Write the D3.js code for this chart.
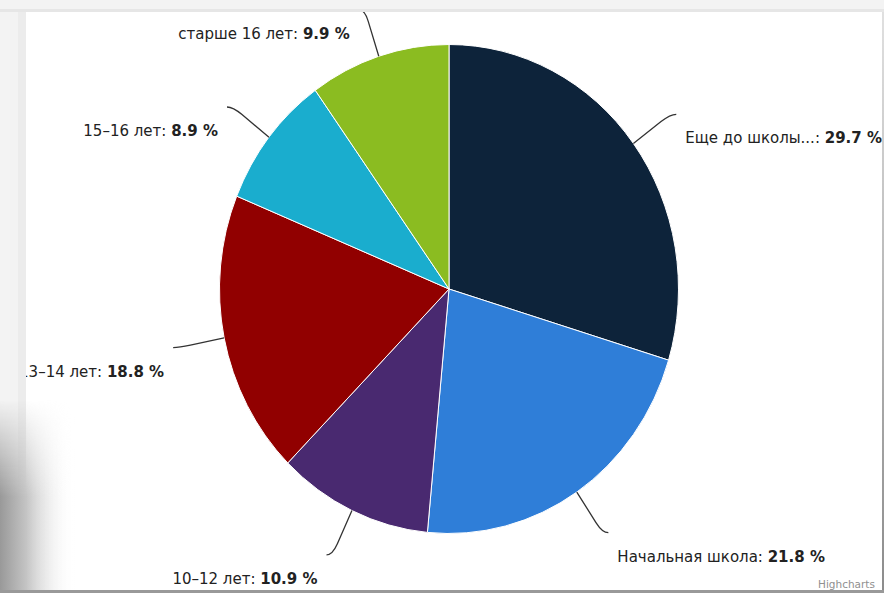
<!DOCTYPE html>
<html><head><meta charset="utf-8">
<script src="https://cdn.jsdelivr.net/npm/d3@7"></script>
<style>html,body{margin:0;padding:0;background:#fff;}svg{display:block;}</style>
</head><body>
<svg id="c" width="884" height="593"></svg>
<script>
const categories = ["Еще до школы...", "Начальная школа", "10–12 лет", "13–14 лет", "15–16 лет", "старше 16 лет"];
const values = [29.7, 21.8, 10.9, 18.8, 8.9, 9.9];
const colors = ["#0d233a", "#2f7ed8", "#492970", "#910000", "#1aadce", "#8bbc21"];

const W = 884, H = 593;
const cx = 449, cy = 289, rx = 229.5, ry = 244.5;
const svg = d3.select("#c");
const defs = svg.append("defs");

svg.append("rect").attr("width", W).attr("height", H).attr("fill", "#f3f3f3");
defs.append("clipPath").attr("id", "panel").append("rect")
  .attr("x", 26).attr("y", 12).attr("width", 856).attr("height", 578);
svg.append("rect").attr("x", 26).attr("y", 12).attr("width", 856).attr("height", 578).attr("fill", "#fff");
svg.append("rect").attr("x", 0).attr("y", 9).attr("width", W).attr("height", 3).attr("fill", "#e6e6e6");
svg.append("rect").attr("x", 18).attr("y", 12).attr("width", 8).attr("height", H).attr("fill", "#ececec");

const g = svg.append("g").attr("clip-path", "url(#panel)");

const data = categories.map((c, i) => ({ name: c, value: values[i], color: colors[i] }));
const pie = d3.pie().sort(null).value(d => d.value);
const arcs = pie(data);
const arc = d3.arc().innerRadius(0).outerRadius(rx);

const pg = g.append("g").attr("transform", `translate(${cx},${cy}) scale(1,${ry / rx})`);
pg.selectAll("path").data(arcs).join("path")
  .attr("d", arc)
  .attr("fill", d => d.data.color)
  .attr("stroke", "#fff").attr("stroke-width", 1)
  .attr("vector-effect", "non-scaling-stroke");

function pt(a, f) { return [cx + f * rx * Math.sin(a), cy - f * ry * Math.cos(a)]; }

const lab = g.append("g");
arcs.forEach(d => {
  const a = (d.startAngle + d.endAngle) / 2;
  const side = Math.sin(a) >= 0 ? 1 : -1;
  const p0 = pt(a, 1.0);
  const p1 = pt(a, 1.15);
  const p2 = pt(a, 1.2);
  const end = [p2[0] + 6 * side, p2[1]];
  lab.append("path")
    .attr("d", `M${p0[0]},${p0[1]} L${p1[0]},${p1[1]} Q${p2[0]},${p2[1]} ${end[0]},${end[1]}`)
    .attr("fill", "none").attr("stroke", "#333").attr("stroke-width", 1.3);
  const t = lab.append("text")
    .attr("x", end[0] + 9 * side).attr("y", end[1] + 29)
    .attr("text-anchor", side > 0 ? "start" : "end")
    .attr("font-family", "'DejaVu Sans', Verdana, sans-serif")
    .attr("font-size", 15).attr("fill", "#222");
  t.append("tspan").text(d.data.name + ": ");
  t.append("tspan").attr("font-weight", "bold").text(d.data.value.toFixed(1) + " %");
});

g.append("text").attr("x", 818).attr("y", 588)
  .attr("font-family", "'DejaVu Sans', Verdana, sans-serif")
  .attr("font-size", 10.5).attr("fill", "#909090").text("Highcharts");

const rg = defs.append("linearGradient").attr("id", "rg").attr("x1", 0).attr("y1", 0).attr("x2", 0).attr("y2", 1);
rg.append("stop").attr("offset", 0).attr("stop-color", "#e0e0e0");
rg.append("stop").attr("offset", 1).attr("stop-color", "#8a8a8a");
svg.append("rect").attr("x", 882).attr("y", 12).attr("width", 2).attr("height", H).attr("fill", "url(#rg)");
svg.append("rect").attr("x", 0).attr("y", 590).attr("width", W).attr("height", 3).attr("fill", "#999");

const hg = defs.append("linearGradient").attr("id", "hg").attr("x1", 0).attr("y1", 0).attr("x2", 1).attr("y2", 0);
hg.append("stop").attr("offset", 0).attr("stop-color", "#999").attr("stop-opacity", 1);
hg.append("stop").attr("offset", 0.35).attr("stop-color", "#c4c4c4").attr("stop-opacity", 1);
hg.append("stop").attr("offset", 1).attr("stop-color", "#fff").attr("stop-opacity", 0);
const vg = defs.append("linearGradient").attr("id", "vg").attr("x1", 0).attr("y1", 0).attr("x2", 0).attr("y2", 1);
vg.append("stop").attr("offset", 0).attr("stop-color", "#fff").attr("stop-opacity", 0);
vg.append("stop").attr("offset", 0.5).attr("stop-color", "#fff").attr("stop-opacity", 1);
vg.append("stop").attr("offset", 1).attr("stop-color", "#fff").attr("stop-opacity", 1);
defs.append("mask").attr("id", "vm").append("rect")
  .attr("x", 0).attr("y", 400).attr("width", 80).attr("height", 193).attr("fill", "url(#vg)");
svg.append("rect").attr("x", 0).attr("y", 400).attr("width", 75).attr("height", 190)
  .attr("fill", "url(#hg)").attr("mask", "url(#vm)");
</script>
</body></html>
